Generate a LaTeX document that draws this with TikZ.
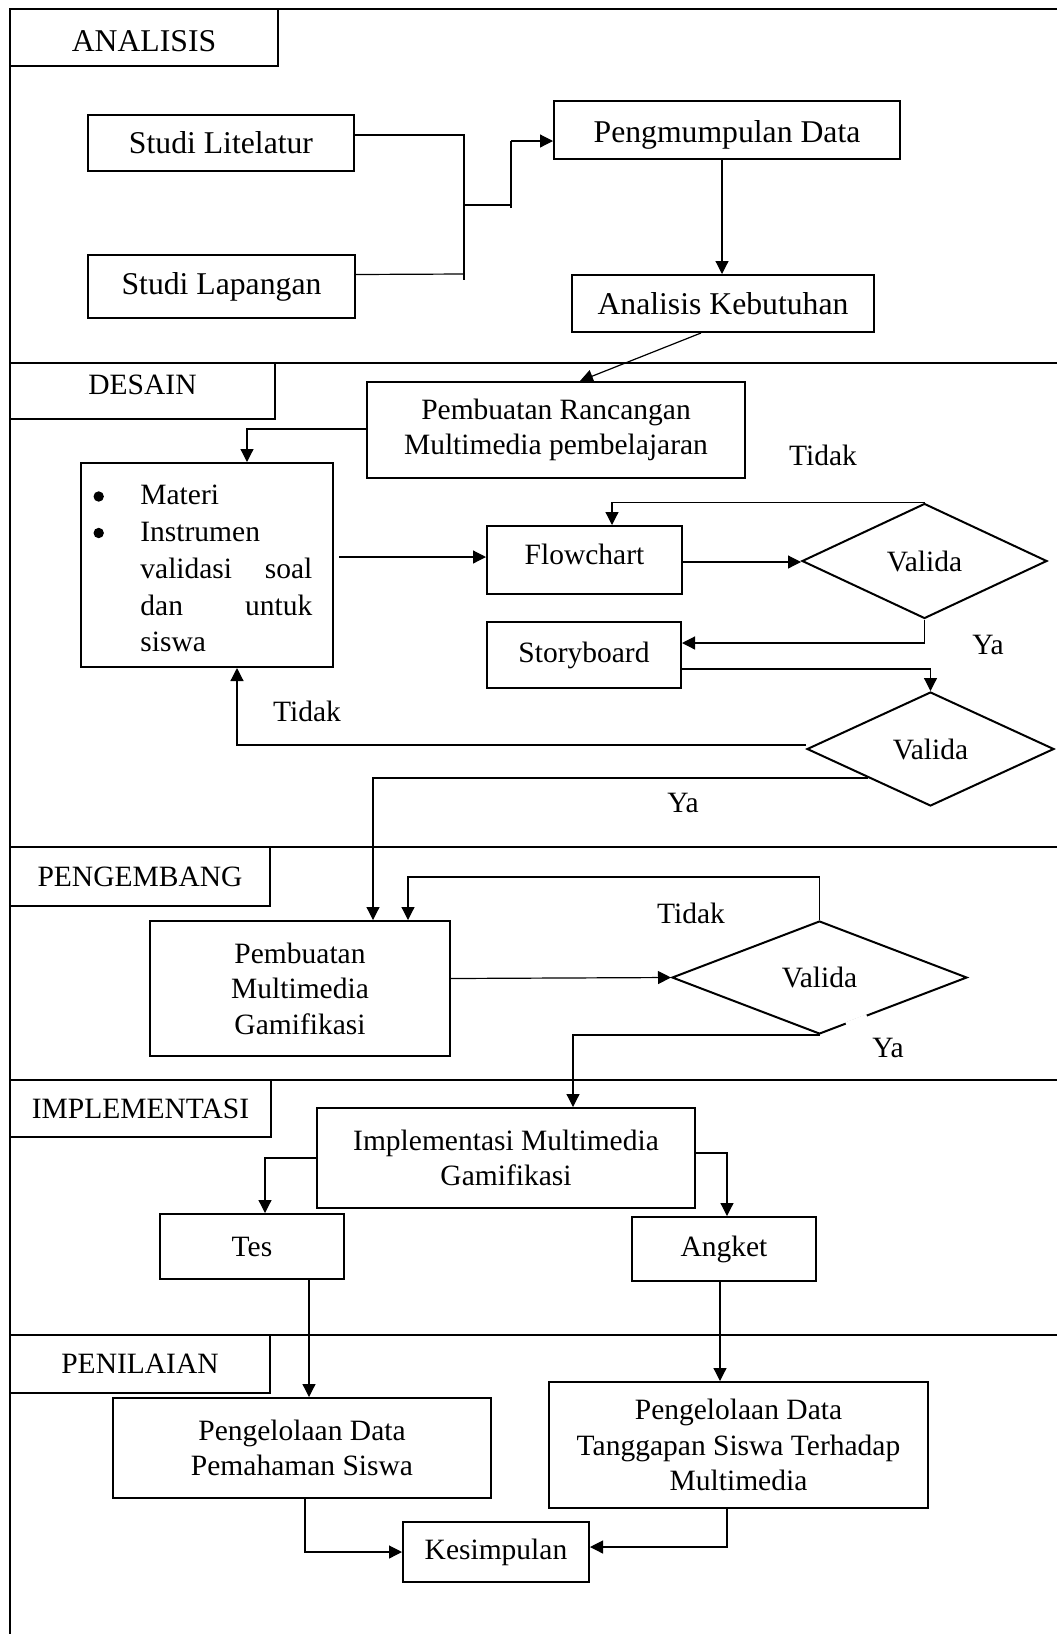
\documentclass[tikz,border=0pt]{standalone}
\usepackage{fontspec}
\setmainfont{Liberation Serif}
\usetikzlibrary{arrows.meta,calc,shapes.geometric}
\newcommand\fbig{\fontsize{15.85}{19}\selectfont}
\newcommand\fnorm{\fontsize{14.75}{17.75}\selectfont}
\begin{document}
\begin{tikzpicture}[x=0.5pt,y=-0.5pt,
  box/.style={draw, line width=1pt, inner sep=0pt, align=center, font=\fnorm},
  dia/.style={draw, diamond, line width=1pt, inner sep=0pt, font=\fnorm},
  frame/.style={line width=1.3pt},
  conn/.style={line width=0.6pt},
  arr/.style={conn, -{Triangle[length=6.5pt,width=6.5pt]}},
  bul/.style={circle, fill, inner sep=0pt, minimum size=5.2pt},
  lbl/.style={font=\fnorm, inner sep=0pt}]
\useasboundingbox (0,0) rectangle (1057,1634);

% frame and lanes
\draw[frame] (1057,9) -- (10,9) -- (10,1634);
\foreach \yy in {363,847,1080,1335} \draw[frame] (10,\yy) -- (1057,\yy);

% lane labels
\node[box, font=\fbig, text height=13.5pt, text depth=0pt, minimum width=134pt, minimum height=28.5pt] (lanA) at (144,37.5) {ANALISIS};
\node[box, text height=6.6pt, text depth=3.5pt, minimum width=132.5pt, minimum height=28pt] (lanD) at (142.5,391) {DESAIN};
\node[box, minimum width=130pt, minimum height=29.5pt] (lanP) at (140,876.5) {PENGEMBANG};
\node[box, minimum width=130.5pt, minimum height=28.5pt] (lanI) at (140.5,1108.5) {IMPLEMENTASI};
\node[box, minimum width=130pt, minimum height=29pt] (lanN) at (140,1364) {PENILAIAN};

% ANALISIS
\node[box, font=\fbig, minimum width=133pt, minimum height=28pt] (lit) at (221,143) {Studi Litelatur};
\node[box, font=\fbig, minimum width=133.5pt, minimum height=31.5pt] (lap) at (221.5,286.5) {Studi Lapangan};
\node[box, font=\fbig, text height=13.6pt, text depth=1.5pt, minimum width=173pt, minimum height=29pt] (pd) at (727,130) {Pengmumpulan Data};
\node[box, font=\fbig, minimum width=151pt, minimum height=28.5pt] (ak) at (723,303.5) {Analisis Kebutuhan};

% DESAIN
\node[box, minimum width=189pt, minimum height=48pt] (pr) at (556,430) {Pembuatan Rancangan\\Multimedia pembelajaran};
\node[box, minimum width=126pt, minimum height=102pt] (mat) at (207,565) {};
\node[bul] (b1) at (98.7,496.5) {};
\node[bul] (b2) at (98.7,533) {};
\node[anchor=north west, inner sep=0pt, font=\fnorm] (mattext) at (140,478)
  {\renewcommand\arraystretch{1.04}\begin{tabular}{@{}p{86pt}@{}}
   Materi\\
   Instrumen\\
   validasi\hfill soal\\
   dan\hfill untuk\\
   siswa
   \end{tabular}};
\node[box, text height=6.9pt, text depth=2.9pt, minimum width=97.5pt, minimum height=34pt] (fc) at (584.5,560) {Flowchart};
\node[box, minimum width=97pt, minimum height=33pt] (sb) at (584,655) {Storyboard};
\node[dia, minimum width=122.5pt, minimum height=57.5pt] (v1) at (924.5,561) {Valida};
\node[dia, minimum width=123.5pt, minimum height=57pt] (v2) at (930.5,749) {Valida};

% PENGEMBANG
\node[box, minimum width=150pt, minimum height=67.5pt] (pmg) at (300,988.5) {Pembuatan\\Multimedia\\Gamifikasi};
\node[dia, minimum width=147.5pt, minimum height=56.5pt] (v3) at (819.5,977.5) {Valida};
\draw[white, line width=2.5pt] ($(v3.south)!0.18!(v3.east)$) -- ($(v3.south)!0.32!(v3.east)$);

% IMPLEMENTASI
\node[box, minimum width=189pt, minimum height=50pt] (img) at (506,1158) {Implementasi Multimedia\\Gamifikasi};
\node[box, minimum width=92pt, minimum height=32.5pt] (tes) at (252,1246.5) {Tes};
\node[box, minimum width=92pt, minimum height=32pt] (ang) at (724,1249) {Angket};

% PENILAIAN
\node[box, minimum width=189pt, minimum height=50pt] (pdp) at (302,1448) {Pengelolaan Data\\Pemahaman Siswa};
\node[box, minimum width=189.5pt, minimum height=63pt] (pdt) at (738.5,1445) {Pengelolaan Data\\Tanggapan Siswa Terhadap\\Multimedia};
\node[box, minimum width=93pt, minimum height=30pt] (kes) at (496,1552) {Kesimpulan};

% labels
\node[lbl] (t1) at (823,455) {Tidak};
\node[lbl] (y1) at (988,645) {Ya};
\node[lbl] (t2) at (307,711) {Tidak};
\node[lbl] (y2) at (683,803) {Ya};
\node[lbl] (t3) at (691,913) {Tidak};
\node[lbl] (y3) at (888,1048) {Ya};

% connectors ANALISIS
\coordinate (m1) at (464,205);
\coordinate (m2) at (511,205);
\draw[conn] ($(lit.east)+(0,-8)$) -- (464,135) -- (464,280);
\draw[conn] ($(lap.east)+(0,-12)$) -- (464,274);
\draw[conn] (m1) -- (m2);
\draw[conn] (511,208) -- (511,141);
\draw[arr] (511,141) -- ($(pd.west)+(0,11)$);
\draw[arr] ($(pd.south)+(-5,0)$) -- ($(ak.north)+(-1,0)$);
\draw[arr] ($(ak.south)+(-22,0)$) -- ($(pr.north)+(24,0)$);

% connectors DESAIN
\draw[arr] ($(pr.west)+(0,-1)$) -| ($(mat.north)+(40,0)$);
\draw[arr] ($(mat.east)+(5,-8)$) -- ($(fc.west)+(0,-3)$);
\draw[arr] ($(fc.east)+(0,2)$) -- ($(v1.west)+(0,1)$);
\draw[arr] (v1.north) -| ($(fc.north)+(27.5,0)$);
\draw[arr] (v1.south) |- ($(sb.east)+(0,-12)$);
\draw[arr] ($(sb.east)+(0,14)$) -| (v2.north);
\draw[arr] ($(v2.west)+(0,-4)$) -| ($(mat.south)+(30,0)$);
\draw[arr] ($(v2.west)!0.5!(v2.south)$) -| ($(pmg.north)+(73,0)$);

% connectors PENGEMBANG
\draw[arr] ($(pmg.east)+(0,-10)$) -- (v3.west);
\draw[arr] (v3.north) -- ++(0,-43) -| ($(pmg.north)+(108,0)$);
\draw[arr] (v3.south) -| ($(img.north)+(67,0)$);

% connectors IMPLEMENTASI
\draw[arr] (img.west) -| ($(tes.north)+(13,0)$);
\draw[arr] ($(img.east)+(0,-5)$) -| ($(ang.north)+(3,0)$);
\draw[arr] ($(tes.south)+(57,0)$) -- ($(pdp.north)+(7,0)$);
\draw[arr] ($(ang.south)+(-4,0)$) -- ($(pdt.north)+(-18.5,0)$);

% connectors PENILAIAN
\draw[arr] ($(pdp.south)+(3,0)$) |- (kes.west);
\draw[arr] ($(pdt.south)+(-11.5,0)$) |- ($(kes.east)+(0,-5)$);
\end{tikzpicture}
\end{document}
